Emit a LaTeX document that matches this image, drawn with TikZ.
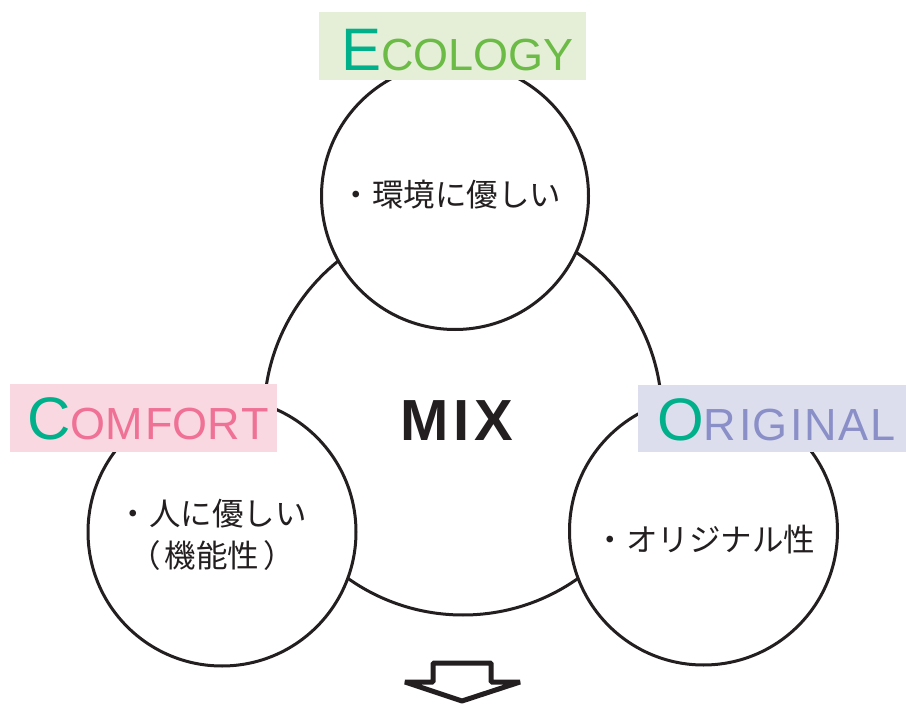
\documentclass[tikz,border=0pt]{standalone}
\usepackage{fontspec}
\setmainfont{Liberation Sans}
\newfontfamily\jpfont{Noto Sans CJK JP}
\definecolor{teal}{HTML}{00B08A}
\definecolor{ecogreen}{HTML}{6CBB47}
\definecolor{compink}{HTML}{EF7296}
\definecolor{origviolet}{HTML}{8B8FC8}
\definecolor{ecobox}{HTML}{E5EFD7}
\definecolor{combox}{HTML}{FAD8E1}
\definecolor{origbox}{HTML}{DCDEEE}
\definecolor{ink}{HTML}{231F20}
\tikzset{
  ring/.style={circle, draw=ink, line width=3pt, fill=white, inner sep=0pt},
  tagbox/.style={rectangle, inner sep=0pt, draw=none},
  tagtext/.style={inner sep=0pt, anchor=base west, font=\fontsize{45}{50}\selectfont},
  jtext/.style={inner sep=0pt, text=ink, font=\jpfont\fontsize{31.5}{42}\selectfont, align=center},
  bigarrow/.style={draw=ink, line width=5pt, fill=white, line join=bevel}
}
\begin{document}
\begin{tikzpicture}[x=1pt,y=-1pt]
\useasboundingbox (0,0) rectangle (906,706);
% circles
\node[ring, minimum size=398pt] (mix) at (463,416) {};
\node[ring, minimum size=267pt] (eco) at (455,196) {};
\node[ring, minimum size=268pt] (com) at (222,532) {};
\node[ring, minimum size=268pt] (ori) at (703.5,531) {};
% MIX
\node[inner sep=0pt, anchor=base, text=ink, font=\bfseries\fontsize{58}{60}\selectfont] (mixt) at (457,440) {M\kern5pt I\kern5pt X};
% circle texts
\node[jtext] (ecot) at (451,195) {・環境に優しい};
\node[jtext, anchor=north] (comt) at (212,499) {・人に優しい\\（\kern4pt 機能性\kern4pt ）};
\node[jtext] (orit) at (705,540) {・オリジナル性};
% tags
\node[tagbox, fill=ecobox, minimum width=267pt, minimum height=68pt] (ecobx) at (452.5,46) {};
\node[tagtext] (ecolbl) at (341,71) {\textcolor{teal}{\fontsize{60}{60}\selectfont E}\textcolor{ecogreen}{COLOGY}};
\node[tagbox, fill=combox, minimum width=267pt, minimum height=68pt] (combx) at (143.5,418) {};
\node[tagtext] (comlbl) at (27,439) {\textcolor{teal}{\fontsize{60}{60}\selectfont C}\textcolor{compink}{OM\kern2pt FOR\kern2pt T}};
\node[tagbox, fill=origbox, minimum width=268pt, minimum height=67pt] (oribx) at (772,418.5) {};
\node[tagtext] (orilbl) at (657,440) {\textcolor{teal}{\fontsize{60}{60}\selectfont O}\textcolor{origviolet}{R\kern3pt I\kern1pt G\kern3pt I\kern1pt N\kern2pt A\kern2pt L}};
% arrow
\coordinate (arrtip) at (462,701);
\draw[bigarrow] (433,663) -- (491,663) -- (491,682) -- (520,682) -- (arrtip) -- (405,682) -- (433,682) -- cycle;
\end{tikzpicture}
\end{document}
